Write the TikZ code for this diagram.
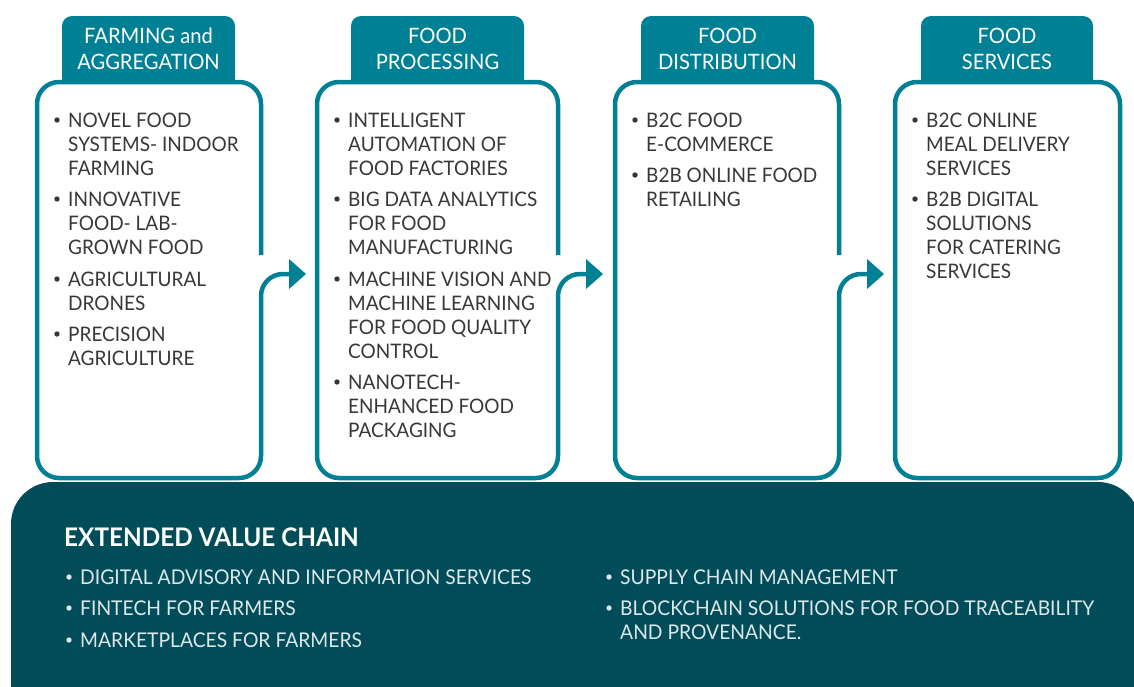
\documentclass[tikz,border=0pt]{standalone}
\usepackage{fontspec}
\setmainfont[FakeStretch=0.95]{Lato}
\definecolor{tealc}{RGB}{0,128,148}
\definecolor{panelc}{RGB}{0,77,89}
\definecolor{txtc}{RGB}{55,55,55}
\definecolor{ptxtc}{RGB}{222,232,234}
\tikzset{
  boxline/.style={draw=tealc, line width=4.5pt, rounded corners=22},
  tabshape/.style={fill=tealc, rounded corners=10},
  itemtext/.style={anchor=north west, inner sep=0pt, align=left, text=txtc, font=\fontsize{20}{24}\selectfont},
  tabtext/.style={anchor=north, inner sep=0pt, align=center, text=white, font=\fontsize{21.2}{26}\selectfont},
  paneltext/.style={anchor=north west, inner sep=0pt, align=left, text=ptxtc, font=\fontsize{20.3}{24}\selectfont},
  titletext/.style={anchor=north west, inner sep=0pt, text=white, font=\bfseries\fontsize{25.6}{28}\selectfont},
}
\begin{document}
\begin{tikzpicture}[x=1pt,y=-1pt]
\useasboundingbox (0,0) rectangle (1134,686);
\clip (0,0) rectangle (1134,686);
% ---- tabs
\fill[tabshape] (62,16) rectangle (235,110);
\fill[tabshape] (351,16) rectangle (524,110);
\fill[tabshape] (641,16) rectangle (814,110);
\fill[tabshape] (921,16) rectangle (1093,110);
% ---- boxes
\foreach \L/\R in {37/261, 317/558, 615/839, 895/1120}{
  \fill[white, rounded corners=22] (\L,82) rectangle (\R,478);
}
\foreach \L/\R in {37/261, 317/558, 615/839}{
  \draw[boxline] (\R,255) -- (\R,82) -- (\L,82) -- (\L,478) -- (\R,478) -- (\R,274) -- (\R+29,274);
  \fill[tealc] (\R+28,259) -- (\R+45,274) -- (\R+28,289) -- cycle;
}
\draw[boxline] (895,82) rectangle (1120,478);
% ---- tab texts
\node[tabtext] (t1) at (148.5,28) {FARMING and\\AGGREGATION};
\node[tabtext] (t2) at (437.5,28) {FOOD\\PROCESSING};
\node[tabtext] (t3) at (727.5,28) {FOOD\\DISTRIBUTION};
\node[tabtext] (t4) at (1007,28) {FOOD\\SERVICES};
% ---- box items
\foreach \x/\c/\nm/\txt in {
  68/120/a1/{NOVEL FOOD\\SYSTEMS- INDOOR\\FARMING},
  68/199/a2/{INNOVATIVE\\FOOD- LAB-\\GROWN FOOD},
  68/279/a3/{AGRICULTURAL\\DRONES},
  68/334/a4/{PRECISION\\AGRICULTURE},
  348/120/b1/{INTELLIGENT\\AUTOMATION OF\\FOOD FACTORIES},
  348/199/b2/{BIG DATA ANALYTICS\\FOR FOOD\\MANUFACTURING},
  348/279/b3/{MACHINE VISION AND\\MACHINE LEARNING\\FOR FOOD QUALITY\\CONTROL},
  348/382/b4/{NANOTECH-\\ENHANCED FOOD\\PACKAGING},
  646/120/c1/{B2C FOOD\\E-COMMERCE},
  646/175/c2/{B2B ONLINE FOOD\\RETAILING},
  926/120/d1/{B2C ONLINE\\MEAL DELIVERY\\SERVICES},
  926/199/d2/{B2B DIGITAL\\SOLUTIONS\\FOR CATERING\\SERVICES}}{
  \node[itemtext] (\nm) at (\x,\c-7.5) {\txt};
  \fill[txtc] (\x-11,\c) circle (2.7);
}
% ---- panel
\fill[panelc, rounded corners=42] (11,482) rectangle (1140,760);
\node[titletext] (title) at (64,528) {EXTENDED VALUE CHAIN};
\foreach \x/\c/\nm/\txt in {
  80/577/p1/{DIGITAL ADVISORY AND INFORMATION SERVICES},
  80/608/p2/{FINTECH FOR FARMERS},
  80/640/p3/{MARKETPLACES FOR FARMERS},
  620/577/p4/{SUPPLY CHAIN MANAGEMENT},
  620/608/p5/{BLOCKCHAIN SOLUTIONS FOR FOOD TRACEABILITY\\AND PROVENANCE.}}{
  \node[paneltext] (\nm) at (\x,\c-7.5) {\txt};
  \fill[ptxtc] (\x-11,\c) circle (2.7);
}
\end{tikzpicture}
\end{document}
